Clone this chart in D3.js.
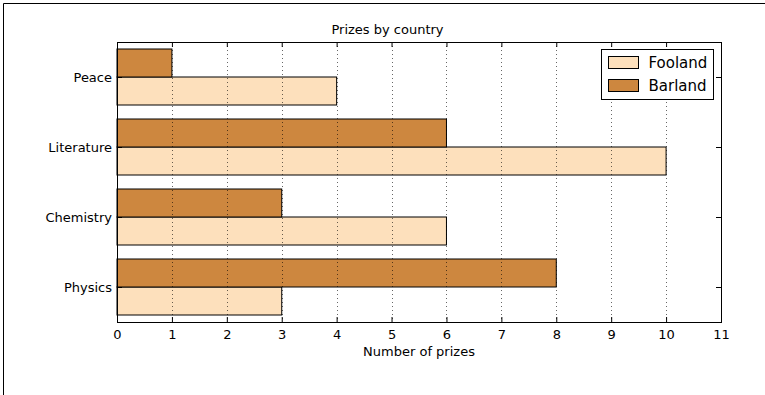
<!DOCTYPE html>
<html><head><meta charset="utf-8">
<script src="https://cdn.jsdelivr.net/npm/d3@7"></script>
<style>body{margin:0;background:#fff}svg{display:block;font-family:"DejaVu Sans",sans-serif}</style>
</head><body><svg width="765" height="395"></svg>
<script>
const categories = ["Physics","Chemistry","Literature","Peace"];
const fooland = [3,6,10,4];
const barland = [8,3,6,1];
const seriesNames = ["Fooland","Barland"];
const colors = ["#fde0bc","#cd873f"];
const xTicks = [0,1,2,3,4,5,6,7,8,9,10,11];

const svg = d3.select("svg");
svg.append("line").attr("x1",3.5).attr("x2",3.5).attr("y1",3.5).attr("y2",395).attr("stroke","#000");
svg.append("line").attr("x1",3.5).attr("x2",765).attr("y1",3.5).attr("y2",3.5).attr("stroke","#000");

const L=117,R=721,T=42,B=322;
const x = d3.scaleLinear().domain([0,11]).range([L,R]);
const y = d3.scaleLinear().domain([-0.5,3.5]).range([B,T]);
const bw = 0.4;

const g = svg.append("g");
categories.forEach((c,i)=>{
  g.append("rect").attr("x",x(0)).attr("y",y(i)).attr("width",x(fooland[i])-x(0)).attr("height",y(i-bw)-y(i))
    .attr("fill",colors[0]).attr("stroke","#000").attr("stroke-width",1);
  g.append("rect").attr("x",x(0)).attr("y",y(i+bw)).attr("width",x(barland[i])-x(0)).attr("height",y(i)-y(i+bw))
    .attr("fill",colors[1]).attr("stroke","#000").attr("stroke-width",1);
});

xTicks.forEach(t=>{
  svg.append("line").attr("x1",Math.round(x(t))+0.5).attr("x2",Math.round(x(t))+0.5).attr("y1",T).attr("y2",B)
    .attr("stroke","#000").attr("stroke-width",0.6).attr("stroke-dasharray","1,3");
});

svg.append("rect").attr("x",L+0.5).attr("y",T+0.5).attr("width",R-L).attr("height",B-T).attr("fill","none").attr("stroke","#000").attr("stroke-width",1);

const xb = svg.append("g").attr("transform",`translate(0,${B})`)
  .call(d3.axisBottom(x).tickValues(xTicks).tickSize(-5).tickPadding(8).tickFormat(d3.format("d")));
const xt = svg.append("g").attr("transform",`translate(0,${T})`)
  .call(d3.axisTop(x).tickValues(xTicks).tickSize(-5).tickFormat(""));
const yl = svg.append("g").attr("transform",`translate(${L},0)`)
  .call(d3.axisLeft(y).tickValues(d3.range(categories.length)).tickSize(-5).tickPadding(5).tickFormat(i=>categories[i]));
const yr = svg.append("g").attr("transform",`translate(${R},0)`)
  .call(d3.axisRight(y).tickValues(d3.range(categories.length)).tickSize(-5).tickFormat(""));
[xb,xt,yl,yr].forEach(a=>{a.select(".domain").remove();a.selectAll("text").attr("font-size",13).attr("fill","#000").attr("font-family","DejaVu Sans");a.selectAll("line").attr("stroke","#000");});

svg.append("text").attr("x",387.5).attr("y",33.5).attr("text-anchor","middle").attr("font-size",13).text("Prizes by country");
svg.append("text").attr("x",(L+R)/2).attr("y",356).attr("text-anchor","middle").attr("font-size",13).text("Number of prizes");

const lg = svg.append("g").attr("transform","translate(601.5,49.5)");
lg.append("rect").attr("width",112).attr("height",50).attr("fill","#fff").attr("stroke","#000");
seriesNames.forEach((n,i)=>{
  lg.append("rect").attr("x",7).attr("y",7+i*23).attr("width",30).attr("height",12).attr("fill",colors[i]).attr("stroke","#000");
  lg.append("text").attr("x",47).attr("y",18.5+i*23).attr("font-size",15).text(n);
});
</script></body></html>
